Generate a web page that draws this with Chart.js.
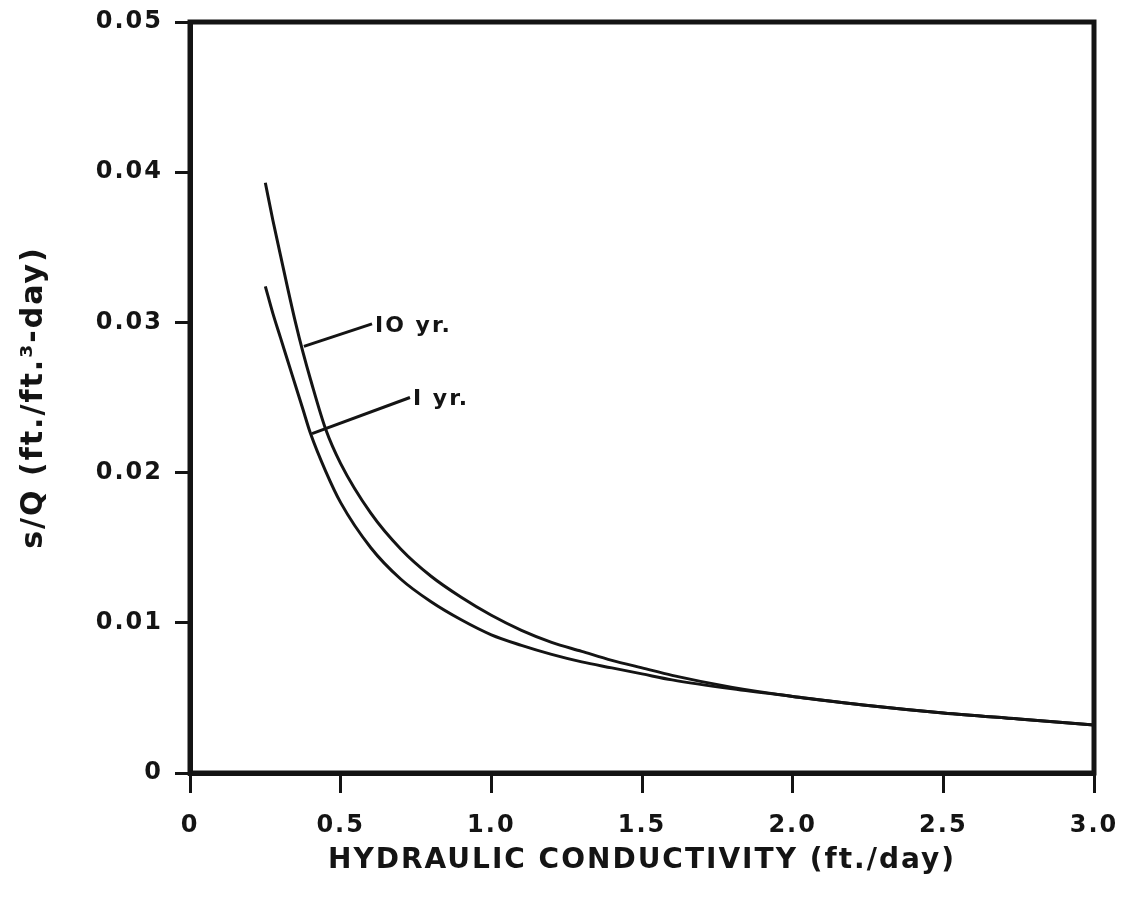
<!DOCTYPE html>
<html>
<head>
<meta charset="utf-8">
<script src="https://cdn.jsdelivr.net/npm/chart.js@4/dist/chart.umd.min.js"></script>
<style>
  html, body { margin: 0; padding: 0; background: #fff; }
  #wrap { width: 1122px; height: 916px; }
</style>
</head>
<body>
<div id="wrap"><canvas id="line-chart"></canvas></div>
<script>
  // hydraulic conductivity (ft./day)
  const kValues   = [0.25, 0.275, 0.3, 0.325, 0.35, 0.375, 0.4, 0.45, 0.5, 0.6, 0.7, 0.8, 0.9, 1.0, 1.1, 1.2, 1.3, 1.4, 1.5, 1.6, 1.8, 2.0, 2.25, 2.5, 2.75, 3.0];
  // s/Q
  const tenYear   = [0.0393, 0.0368, 0.0345, 0.0322, 0.0300, 0.0280, 0.0262, 0.0229, 0.0206, 0.0173, 0.0149, 0.0131, 0.0117, 0.0105, 0.0095, 0.0087, 0.0081, 0.0075, 0.0070, 0.0065, 0.0057, 0.0051, 0.0045, 0.0040, 0.0036, 0.0032];
  const oneYear   = [0.0324, 0.0306, 0.0290, 0.0274, 0.0258, 0.0242, 0.0226, 0.0201, 0.0180, 0.0150, 0.0129, 0.0114, 0.0102, 0.0092, 0.0085, 0.0079, 0.0074, 0.0070, 0.0066, 0.0062, 0.0056, 0.0051, 0.0045, 0.0040, 0.0036, 0.0032];

  const xTickLabels = ['0', '0.5', '1.0', '1.5', '2.0', '2.5', '3.0'];
  const yTickLabels = ['0', '0.01', '0.02', '0.03', '0.04', '0.05'];

  // leader lines in data units, then label text
  const labelLines = [
    { from: [0.378, 0.0284], to: [0.604, 0.0299], text: 'IO yr.' },
    { from: [0.405, 0.0226], to: [0.730, 0.0250], text: 'I yr.' },
  ];

  const INK = '#141414';
  const FONT = '"DejaVu Sans", sans-serif';

  const toPoints = (ys) => kValues.map((k, i) => ({ x: k, y: ys[i] }));

  // wide old-typewriter look for all texts
  const spacingPlugin = {
    id: 'spacing',
    beforeDraw(chart) {
      chart.ctx.letterSpacing = '2px';
    },
  };

  // box frame + leader lines with labels
  const framePlugin = {
    id: 'frame',
    afterDatasetsDraw(chart) {
      const { ctx, chartArea: a, scales: { x, y } } = chart;
      ctx.save();
      ctx.strokeStyle = INK;
      ctx.lineWidth = 5;
      ctx.strokeRect(a.left, a.top, a.right - a.left, a.bottom - a.top);

      ctx.lineWidth = 3;
      ctx.fillStyle = INK;
      ctx.font = 'bold 22px ' + FONT;
      ctx.textAlign = 'left';
      ctx.textBaseline = 'middle';
      labelLines.forEach((l) => {
        const x1 = x.getPixelForValue(l.from[0]);
        const y1 = y.getPixelForValue(l.from[1]);
        const x2 = x.getPixelForValue(l.to[0]);
        const y2 = y.getPixelForValue(l.to[1]);
        ctx.beginPath();
        ctx.moveTo(x1, y1);
        ctx.lineTo(x2, y2);
        ctx.stroke();
        ctx.fillText(l.text, x2 + 3, y2 + 2);
      });
      ctx.restore();
    },
  };

  const ctx = document.getElementById('line-chart').getContext('2d');

  new Chart(ctx, {
    type: 'scatter',
    data: {
      datasets: [{
        label       : '10 yr.',
        data        : toPoints(tenYear),
        showLine    : true,
        borderColor : INK,
        borderWidth : 3,
        pointRadius : 0,
        cubicInterpolationMode: 'monotone',
      }, {
        label       : '1 yr.',
        data        : toPoints(oneYear),
        showLine    : true,
        borderColor : INK,
        borderWidth : 3,
        pointRadius : 0,
        cubicInterpolationMode: 'monotone',
      }],
    },
    options: {
      responsive: true,
      maintainAspectRatio: false,
      animation: false,
      layout: { padding: { top: 22, right: 28, left: 0, bottom: 0 } },
      plugins: {
        legend: { display: false },
        tooltip: { enabled: false },
      },
      scales: {
        x: {
          type: 'linear',
          min: 0,
          max: 3,
          afterFit: (s) => { s.height = 143; s.paddingLeft = 0; s.paddingRight = 0; },
          border: { display: true, color: INK, width: 5 },
          grid: { drawOnChartArea: false, drawTicks: true, tickLength: 20, color: INK, lineWidth: 3 },
          ticks: {
            stepSize: 0.5,
            padding: 18,
            color: INK,
            font: { family: FONT, size: 24, weight: 'bold' },
            callback: (v) => xTickLabels[Math.round(v / 0.5)],
          },
          title: {
            display: true,
            text: 'HYDRAULIC CONDUCTIVITY (ft./day)',
            color: INK,
            font: { family: FONT, size: 28, weight: 'bold' },
            padding: { top: 0, bottom: 38 },
          },
        },
        y: {
          min: 0,
          max: 0.05,
          afterFit: (s) => { s.width = 190; s.paddingTop = 0; s.paddingBottom = 0; },
          border: { display: true, color: INK, width: 5 },
          grid: { drawOnChartArea: false, drawTicks: true, tickLength: 15, color: INK, lineWidth: 3 },
          ticks: {
            stepSize: 0.01,
            padding: 12,
            color: INK,
            font: { family: FONT, size: 24, weight: 'bold' },
            callback: (v) => yTickLabels[Math.round(v / 0.01)],
          },
          title: {
            display: true,
            text: 's/Q (ft./ft.³-day)',
            color: INK,
            font: { family: FONT, size: 30, weight: 'bold' },
            padding: { top: 16, bottom: 0 },
          },
        },
      },
    },
    plugins: [spacingPlugin, framePlugin],
  });
</script>
</body>
</html>
